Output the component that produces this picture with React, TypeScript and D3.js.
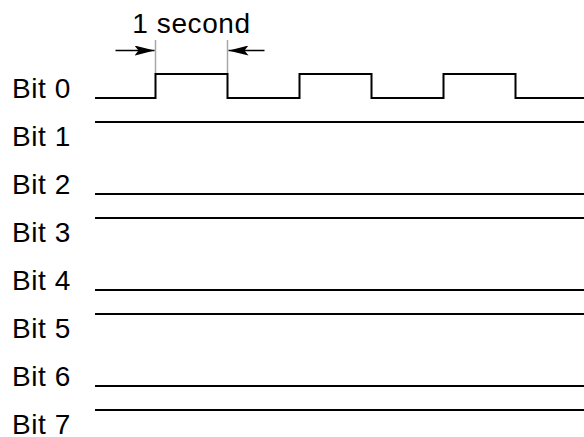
import React from 'react';
import * as d3 from 'd3';

// lane labels, top to bottom
const bitLabels = ['Bit 0', 'Bit 1', 'Bit 2', 'Bit 3', 'Bit 4', 'Bit 5', 'Bit 6', 'Bit 7'];

// sample times (seconds) and logic level held from each time until the next
const sampleTimes = [0.16, 1, 2, 3, 4, 5, 6, 7];
const bit0Levels = [0, 1, 0, 1, 0, 1, 0, 0];
// the other bits sit still at one level
const staticLevels = [1, 0, 1, 0, 1, 0, 1]; // bits 1..7

// the "1 second" marker spans this interval
const markerSpan = [1, 2];
const markerLabel = '1 second';

const W = 584;
const H = 437;
const FONT = 'Liberation Sans, Arial, Helvetica, sans-serif';
const FS = 28;
const LS = 0.6;

export default function App() {
  const x = d3.scaleLinear().domain([0, 7]).range([83.5, 587.5]);
  const lane = d3.scaleLinear().domain([0, 7]).range([98, 434]);
  const level = d3.scaleLinear().domain([0, 1]).range([0, -24]);

  const series = bitLabels.map((label, i) => {
    const levels = i === 0 ? bit0Levels : sampleTimes.map(() => staticLevels[i - 1]);
    const pts = sampleTimes.map((t, k) => ({ t, v: levels[k] }));
    return { label, i, pts };
  });

  const line = (i: number) =>
    d3
      .line<{ t: number; v: number }>()
      .x((d) => x(d.t))
      .y((d) => lane(i) + level(d.v))
      .curve(d3.curveStepAfter);

  const [m0, m1] = markerSpan;
  const arrowY = 50.5;
  const tickTop = 40;
  const tickBottom = lane(0) + level(1);

  return (
    <svg
      width={W}
      height={H}
      style={{ position: 'absolute', left: 0, top: 0, background: '#fff' }}
      fontFamily={FONT}
    >
      <defs>
        <marker
          id="ah"
          viewBox="0 0 20 10"
          refX="20"
          refY="5"
          markerWidth="20"
          markerHeight="10"
          markerUnits="userSpaceOnUse"
          orient="auto"
        >
          <path d="M0,0 L20,5 L0,10 L4,5 Z" fill="#000" />
        </marker>
      </defs>

      {/* marker: gray guide ticks + arrows */}
      {[m0, m1].map((t) => (
        <line
          key={t}
          x1={x(t)}
          x2={x(t)}
          y1={tickTop}
          y2={tickBottom}
          stroke="#a8a8a8"
          strokeWidth={1.5}
        />
      ))}
      <line
        x1={x(m0) - 40}
        x2={x(m0) - 1}
        y1={arrowY}
        y2={arrowY}
        stroke="#000"
        strokeWidth={1.5}
        markerEnd="url(#ah)"
      />
      <line
        x1={x(m1) + 37}
        x2={x(m1) + 1}
        y1={arrowY}
        y2={arrowY}
        stroke="#000"
        strokeWidth={1.5}
        markerEnd="url(#ah)"
      />
      <text
        x={(x(m0) + x(m1)) / 2}
        y={32.5}
        textAnchor="middle"
        fontSize={FS}
        letterSpacing={LS}
        fill="#000"
      >
        {markerLabel}
      </text>

      {series.map((s) => (
        <g key={s.label}>
          <text x={12} y={lane(s.i) - 0.5} fontSize={FS} letterSpacing={LS} fill="#000">
            {s.label}
          </text>
          <path d={line(s.i)(s.pts) ?? ''} fill="none" stroke="#000" strokeWidth={2} />
        </g>
      ))}
    </svg>
  );
}
